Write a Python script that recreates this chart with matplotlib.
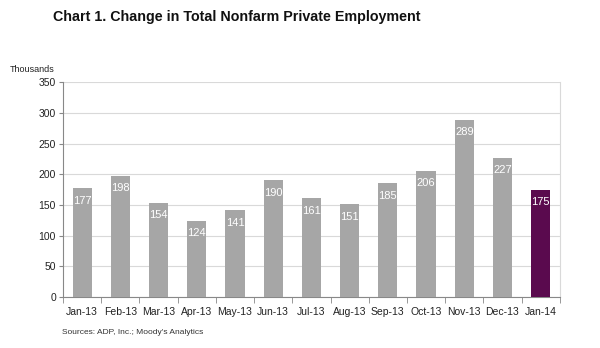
import matplotlib
matplotlib.use("Agg")
import matplotlib.pyplot as plt
from matplotlib import font_manager

plt.rcParams['font.family'] = ['Liberation Sans', 'DejaVu Sans']

months = ["Jan-13", "Feb-13", "Mar-13", "Apr-13", "May-13", "Jun-13", "Jul-13",
          "Aug-13", "Sep-13", "Oct-13", "Nov-13", "Dec-13", "Jan-14"]
change = [177, 198, 154, 124, 141, 190, 161, 151, 185, 206, 289, 227, 175]
y_ticks = [0, 50, 100, 150, 200, 250, 300, 350]

gray = "#A6A6A6"
purple = "#5A0A4E"
colors = [gray] * (len(months) - 1) + [purple]

installed = {f.name for f in font_manager.fontManager.ttflist}
title_family = ['Liberation Sans Narrow', 'Liberation Sans'] if 'Liberation Sans Narrow' in installed else ['Liberation Sans']
title_size = 14 if 'Liberation Sans Narrow' in installed else 10.3

fig = plt.figure(figsize=(6.0, 3.48), dpi=100)
ax = fig.add_axes([0.105, 0.1466, 0.828, 0.617])

x = list(range(len(months)))
bars = ax.bar(x, change, width=0.5, color=colors, zorder=3)

for xi, v in zip(x, change):
    ax.annotate(str(v), xy=(xi, v), xytext=(0, -9), textcoords="offset points",
                ha="center", va="center", color="white", fontsize=8, zorder=4)

ax.set_xlim(-0.5, len(months) - 0.5)
ax.set_ylim(0, 350)
ax.set_yticks(y_ticks)
ax.set_yticklabels([str(t) for t in y_ticks], fontsize=7.5, color="#222222")
ax.yaxis.grid(True, color="#D9D9D9", linewidth=0.8, zorder=0)

ax.set_xticks(x)
ax.set_xticklabels(months, fontsize=7.5, color="#222222")
ax.tick_params(axis="x", which="major", length=0, pad=7)
ax.set_xticks([i + 0.5 for i in range(-1, len(months))], minor=True)
ax.tick_params(axis="x", which="minor", length=4, color="#888888", direction="out")
ax.tick_params(axis="y", length=3, color="#888888", pad=2)

for side in ["left", "bottom"]:
    ax.spines[side].set_color("#888888")
    ax.spines[side].set_linewidth(0.8)
ax.spines["top"].set_visible(False)
ax.spines["right"].set_color("#D9D9D9")
ax.spines["right"].set_linewidth(0.8)

fig.text(0.088, 0.95, "Chart 1. Change in Total Nonfarm Private Employment",
         fontsize=title_size, fontweight="bold", family=title_family,
         ha="left", va="center", color="#111111")
fig.text(0.017, 0.80, "Thousands", fontsize=6.5, ha="left", va="center", color="#222222")
fig.text(0.103, 0.045, "Sources: ADP, Inc.; Moody's Analytics", fontsize=6,
         ha="left", va="center", color="#333333")

fig.savefig("out.png", dpi=100)
